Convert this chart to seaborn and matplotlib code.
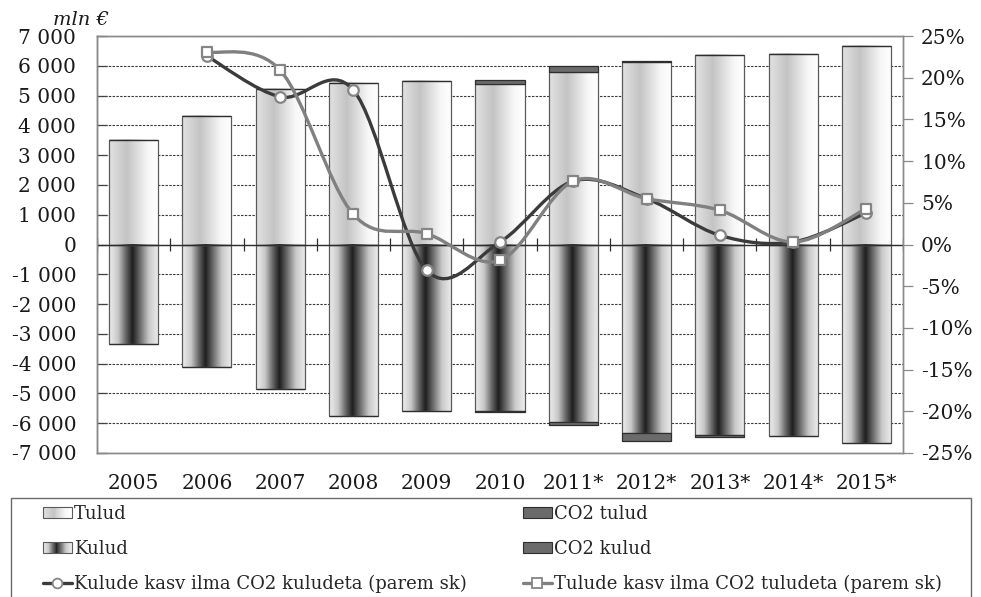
import numpy as np
import matplotlib
matplotlib.use("Agg")
import matplotlib.pyplot as plt
import seaborn as sns
from matplotlib.colors import LinearSegmentedColormap
from matplotlib.patches import Rectangle, Patch, PathPatch
from matplotlib.path import Path
from matplotlib.lines import Line2D
from matplotlib.legend_handler import HandlerBase
from matplotlib.ticker import FuncFormatter

# ---- data (mln EUR, growth in %) ----
years = ["2005", "2006", "2007", "2008", "2009", "2010",
         "2011*", "2012*", "2013*", "2014*", "2015*"]
tulud = [3520, 4330, 5210, 5420, 5490, 5380, 5790, 6130, 6360, 6390, 6660]
co2_tulud = [0, 0, 0, 0, 0, 140, 190, 40, 0, 0, 0]
kulud = [-3350, -4110, -4860, -5750, -5580, -5580, -5970, -6330, -6400, -6430, -6660]
co2_kulud = [0, 0, 0, 0, 0, -45, -100, -270, -50, 0, 0]
kulude_kasv = [np.nan, 22.6, 17.7, 18.5, -3.1, 0.3, 7.6, 5.5, 1.1, 0.3, 3.8]
tulude_kasv = [np.nan, 23.1, 20.9, 3.6, 1.3, -1.9, 7.6, 5.5, 4.1, 0.3, 4.3]

sns.set_style("white")
plt.rcParams["font.family"] = ["DejaVu Serif", "DejaVu Sans"]

W, H = 981, 597
fig = plt.figure(figsize=(W / 100, H / 100), dpi=100)
L, R, T, B = 97, 903, 36, 453
ax = fig.add_axes([L / W, 1 - B / H, (R - L) / W, (B - T) / H])

BAR_W = 0.67
EDGE = "#5a5a5a"
CO2_COLOR = "#6b6b6b"

cmap_tulud = LinearSegmentedColormap.from_list(
    "tulud", [(0.0, "#e2e2e2"), (0.36, "#c4c4c4"), (0.78, "#f7f7f7"), (1.0, "#ffffff")])
cmap_kulud = LinearSegmentedColormap.from_list(
    "kulud", [(0.0, "#efefef"), (0.18, "#c8c8c8"), (0.33, "#6a6a6a"), (0.47, "#1e1e1e"),
              (0.62, "#6a6a6a"), (0.8, "#c8c8c8"), (1.0, "#efefef")])

# base bars
n0 = len(ax.patches)
sns.barplot(x=years, y=tulud, ax=ax, width=BAR_W, color="white",
            edgecolor=EDGE, linewidth=0.9, saturation=1, zorder=2)
tul_patches = ax.patches[n0:]
n1 = len(ax.patches)
sns.barplot(x=years, y=kulud, ax=ax, width=BAR_W, color="white",
            edgecolor=EDGE, linewidth=0.9, saturation=1, zorder=2)
kul_patches = ax.patches[n1:]

grad = np.linspace(0, 1, 400).reshape(1, -1)
for patches, cmap in ((tul_patches, cmap_tulud), (kul_patches, cmap_kulud)):
    for p in patches:
        x0, y0 = p.get_x(), p.get_y()
        w, h = p.get_width(), p.get_height()
        ax.imshow(grad, extent=[x0, x0 + w, y0, y0 + h], cmap=cmap,
                  aspect="auto", interpolation="bilinear",
                  interpolation_stage="rgba", zorder=2.1)
        p.set_facecolor("none")
        p.set_zorder(2.2)

# CO2 parts stacked on the base bars
xpos = np.arange(len(years))
ax.bar(xpos, co2_tulud, bottom=tulud, width=BAR_W, color=CO2_COLOR,
       edgecolor="#2e2e2e", linewidth=0.9, zorder=2.3)
ax.bar(xpos, co2_kulud, bottom=kulud, width=BAR_W, color=CO2_COLOR,
       edgecolor="#2e2e2e", linewidth=0.9, zorder=2.3)

ax.set_xlim(-0.5, len(years) - 0.5)
ax.set_ylim(-7000, 7000)
ax.set_yticks(range(-7000, 7001, 1000))
ax.yaxis.set_major_formatter(FuncFormatter(lambda v, _: f"{v:,.0f}".replace(",", " ")))
ax.yaxis.grid(True, linestyle=(0, (2.2, 1.2)), color="#3a3a3a", linewidth=0.8)
ax.xaxis.grid(False)
ax.set_axisbelow(True)
ax.axhline(0, color="#2e2e2e", linewidth=1.0, zorder=2.5)
# category separators on the zero line
ax.vlines(np.arange(len(years) + 1) - 0.5, -230, 230, color="#2e2e2e",
          linewidth=0.9, zorder=2.5)

ax.set_xlabel("")
ax.set_ylabel("")
ax.tick_params(axis="x", length=0, pad=15, labelsize=14.5, colors="#1a1a1a")
ax.tick_params(axis="y", direction="in", length=7, width=0.9, color="#444",
               pad=15, labelsize=14.5, labelcolor="#1a1a1a")
for side, sp in ax.spines.items():
    sp.set_visible(True)
    sp.set_color("#8a8a8a" if side in ("top", "right", "bottom") else "#555")
    sp.set_linewidth(1.0)

# right axis with growth rates
ax2 = ax.twinx()
ax2.set_ylim(-25, 25)
ax2.set_yticks(range(-25, 26, 5))
ax2.yaxis.set_major_formatter(FuncFormatter(lambda v, _: f"{v:.0f}%"))
ax2.tick_params(axis="y", direction="out", length=7, width=0.9, color="#8a8a8a",
                pad=6, labelsize=14.5, labelcolor="#1a1a1a")
ax2.grid(False)
for sp in ax2.spines.values():
    sp.set_color("#8a8a8a")
    sp.set_linewidth(1.0)


def smooth_path(xs, ys):
    """Cubic Bezier path through the points with Catmull-Rom style tangents."""
    pts = [(x, y) for x, y in zip(xs, ys) if not np.isnan(y)]
    pts = np.array(pts, dtype=float)
    n = len(pts)
    verts = [tuple(pts[0])]
    codes = [Path.MOVETO]
    for i in range(n - 1):
        p0 = pts[i - 1] if i > 0 else pts[i]
        p1 = pts[i]
        p2 = pts[i + 1]
        p3 = pts[i + 2] if i + 2 < n else pts[i + 1]
        c1 = p1 + (p2 - p0) / 6.0
        c2 = p2 - (p3 - p1) / 6.0
        verts += [tuple(c1), tuple(c2), tuple(p2)]
        codes += [Path.CURVE4] * 3
    return Path(verts, codes)


KUL_LINE = "#3b3b3b"
TUL_LINE = "#808080"
MARK_EDGE = "#858585"
for vals, col, z in ((kulude_kasv, KUL_LINE, 4), (tulude_kasv, TUL_LINE, 4.2)):
    ax2.add_patch(PathPatch(smooth_path(xpos, vals), facecolor="none",
                            edgecolor=col, linewidth=2.4, capstyle="round",
                            joinstyle="round", zorder=z))

sns.scatterplot(x=xpos, y=kulude_kasv, ax=ax2, marker="o", s=58, color="white",
                edgecolor=MARK_EDGE, linewidth=1.6, zorder=5, legend=False)
sns.scatterplot(x=xpos, y=tulude_kasv, ax=ax2, marker="s", s=48, color="white",
                edgecolor=MARK_EDGE, linewidth=1.6, zorder=5.2, legend=False)
ax2.set_xlim(-0.5, len(years) - 0.5)
ax2.set_ylabel("")

fig.text(81 / W, 1 - 20 / H, "mln €", ha="center", va="center",
         fontsize=14, style="italic", color="#1a1a1a")


# ---- legend ----
class GradientHandler(HandlerBase):
    def __init__(self, cmap, n=30):
        super().__init__()
        self.cmap = cmap
        self.n = n

    def create_artists(self, legend, orig_handle, xdescent, ydescent,
                       width, height, fontsize, trans):
        arts = []
        step = width / self.n
        for i in range(self.n):
            arts.append(Rectangle((-xdescent + i * step, -ydescent), step * 1.05, height,
                                  facecolor=self.cmap((i + 0.5) / self.n),
                                  edgecolor="none", transform=trans))
        arts.append(Rectangle((-xdescent, -ydescent), width, height, fill=False,
                              edgecolor=EDGE, linewidth=0.8, transform=trans))
        return arts


h_tulud = Patch(label="Tulud")
h_kulud = Patch(label="Kulud")
h_co2t = Patch(facecolor=CO2_COLOR, edgecolor="#2e2e2e", linewidth=0.8)
h_co2k = Patch(facecolor=CO2_COLOR, edgecolor="#2e2e2e", linewidth=0.8)
h_kk = Line2D([], [], color=KUL_LINE, linewidth=2.4, marker="o", markersize=7,
              markerfacecolor="white", markeredgecolor=MARK_EDGE, markeredgewidth=1.3)
h_tk = Line2D([], [], color=TUL_LINE, linewidth=2.4, marker="s", markersize=6.5,
              markerfacecolor="white", markeredgecolor=MARK_EDGE, markeredgewidth=1.3)

leg_kw = dict(loc="upper left", frameon=False, fontsize=13, borderpad=0,
              borderaxespad=0, handlelength=1.6, handleheight=0.62,
              handletextpad=0.1, labelspacing=0.93, numpoints=1,
              bbox_transform=fig.transFigure)
leg1 = fig.legend([h_tulud, h_kulud, h_kk],
                  ["Tulud", "Kulud", "Kulude kasv ilma CO2 kuludeta (parem sk)"],
                  bbox_to_anchor=(43 / W, 1 - 505 / H),
                  handler_map={h_tulud: GradientHandler(cmap_tulud),
                               h_kulud: GradientHandler(cmap_kulud)},
                  **leg_kw)
leg2 = fig.legend([h_co2t, h_co2k, h_tk],
                  ["CO2 tulud", "CO2 kulud", "Tulude kasv ilma CO2 tuludeta (parem sk)"],
                  bbox_to_anchor=(523 / W, 1 - 505 / H), **leg_kw)

fig.patches.append(Rectangle((11 / W, -0.02), 960 / W, (1 - 498 / H) + 0.02,
                             transform=fig.transFigure, fill=False,
                             edgecolor="#6a6a6a", linewidth=1.0))

fig.savefig("out.png", dpi=100)
